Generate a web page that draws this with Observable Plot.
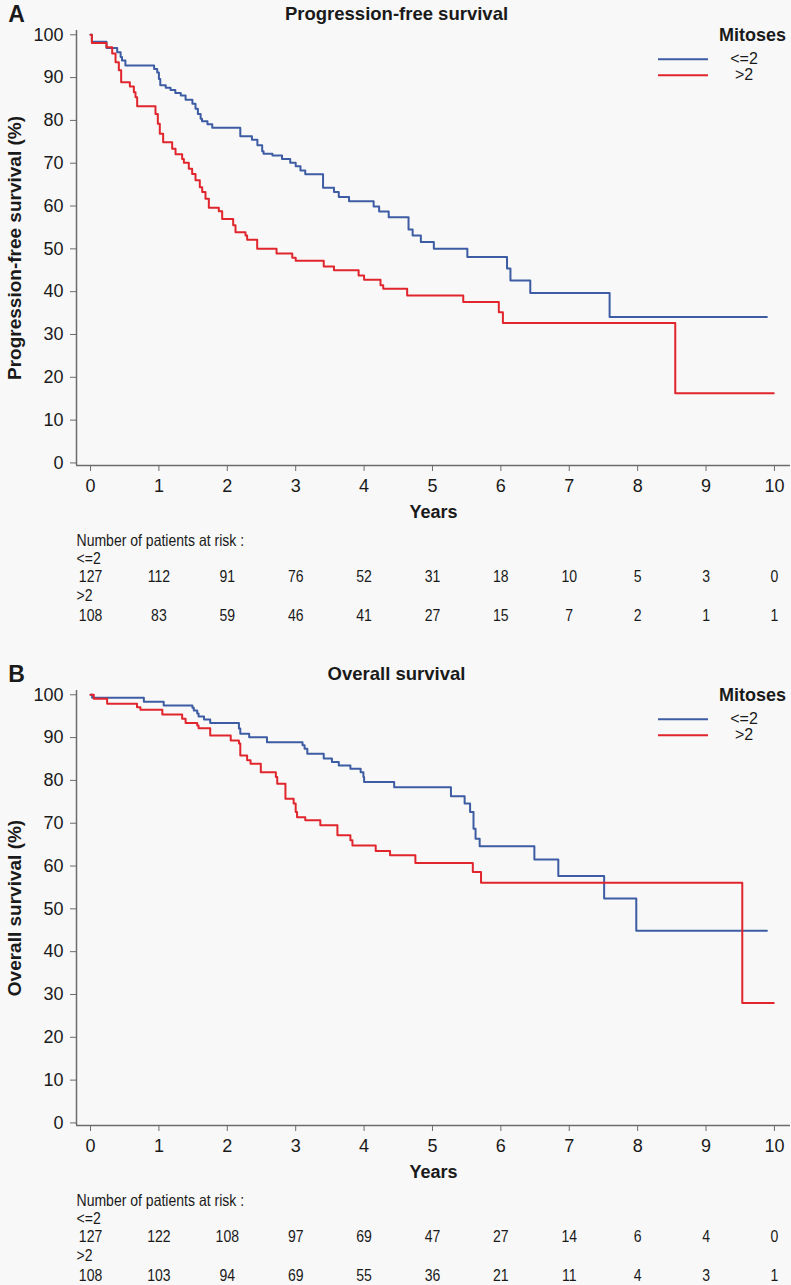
<!DOCTYPE html>
<html><head><meta charset="utf-8">
<script src="https://cdn.jsdelivr.net/npm/d3@7"></script>
<script src="https://cdn.jsdelivr.net/npm/@observablehq/plot@0.6"></script>
<style>
html,body{margin:0;padding:0;background:#f8f8f8;}
#root{width:791px;}
svg{display:block;}
</style></head><body><div id="root"></div>
<script>
const yearTicks = [0,1,2,3,4,5,6,7,8,9,10];
const survTicks = [0,10,20,30,40,50,60,70,80,90,100];
const groups = ["<=2", ">2"];
const groupColors = ["#3d5ca3", "#e0262c"];
const legendTitle = "Mitoses";

// Progression-free survival, [years, %]
const pfsLow = [[0,100],[0.02,98.4],[0.234,96.9],[0.39,95.9],[0.44,94.8],[0.46,94.0],[0.51,92.8],[0.93,92.0],[0.975,91.2],[1.0,89.7],[1.02,88.2],[1.10,87.6],[1.17,87.1],[1.24,86.4],[1.32,85.8],[1.39,84.8],[1.49,83.9],[1.535,82.7],[1.57,81.5],[1.61,80.4],[1.63,79.8],[1.71,79.1],[1.78,78.3],[2.19,76.3],[2.36,75.5],[2.44,74.2],[2.51,72.8],[2.53,72.2],[2.66,71.8],[2.80,71.0],[2.92,70.1],[3.0,69.3],[3.07,68.3],[3.14,67.4],[3.40,64.3],[3.56,63.3],[3.63,62.1],[3.78,61.1],[4.14,59.9],[4.22,58.7],[4.36,57.4],[4.65,54.5],[4.71,53.1],[4.83,51.6],[5.02,50.0],[5.51,48.1],[6.09,45.4],[6.14,42.6],[6.43,39.7],[7.59,34.1],[9.89,34.1]];
const pfsHigh = [[0,100],[0.02,98.1],[0.234,97.1],[0.317,95.6],[0.366,93.6],[0.414,91.7],[0.448,88.9],[0.575,87.9],[0.634,86.6],[0.658,85.4],[0.682,83.3],[0.95,81.5],[0.984,79.2],[1.013,76.9],[1.062,74.9],[1.194,73.4],[1.243,72.1],[1.34,71.0],[1.365,70.1],[1.437,68.7],[1.486,67.5],[1.535,66.0],[1.598,64.4],[1.633,63.3],[1.681,61.7],[1.73,59.6],[1.876,58.8],[1.925,57.0],[2.086,55.5],[2.12,53.9],[2.266,53.1],[2.29,52.1],[2.437,50.0],[2.72,48.9],[2.95,47.9],[3.0,47.2],[3.41,45.9],[3.56,45.0],[3.92,43.8],[4.0,42.8],[4.24,41.5],[4.28,40.7],[4.63,39.1],[5.45,37.6],[5.97,35.2],[6.03,32.7],[8.55,16.3],[9.99,16.3]];
// Overall survival, [years, %]
const osLow = [[0,100],[0.024,99.3],[0.78,98.4],[1.07,97.5],[1.49,97.0],[1.51,96.3],[1.56,95.6],[1.58,94.9],[1.66,94.2],[1.75,93.4],[2.17,92.1],[2.19,90.9],[2.32,90.1],[2.58,88.9],[3.10,88.2],[3.13,87.4],[3.17,86.2],[3.41,85.1],[3.53,84.3],[3.63,83.5],[3.80,82.7],[3.95,81.9],[3.99,80.8],[4.0,79.6],[4.44,78.4],[5.27,76.3],[5.47,74.6],[5.55,72.6],[5.60,68.7],[5.63,66.4],[5.69,64.6],[6.49,61.5],[6.84,57.7],[7.51,52.4],[7.98,44.9],[9.89,44.9]];
const osHigh = [[0,100],[0.048,99.1],[0.243,97.9],[0.68,97.1],[0.73,96.5],[1.05,95.4],[1.34,94.4],[1.39,93.4],[1.56,92.8],[1.58,92.2],[1.75,90.5],[2.05,89.3],[2.17,88.6],[2.19,85.8],[2.29,84.7],[2.34,83.9],[2.49,81.9],[2.71,80.8],[2.73,79.2],[2.85,75.7],[2.97,74.6],[3.0,72.6],[3.02,71.4],[3.14,70.7],[3.36,69.5],[3.61,67.2],[3.80,66.0],[3.83,64.8],[4.17,63.5],[4.38,62.5],[4.75,60.7],[5.59,58.6],[5.71,56.1],[9.53,28.0],[9.99,28.0]];

const pfsRiskLow = [127,112,91,76,52,31,18,10,5,3,0];
const pfsRiskHigh = [108,83,59,46,41,27,15,7,2,1,1];
const osRiskLow = [127,122,108,97,69,47,27,14,6,4,0];
const osRiskHigh = [108,103,94,69,55,36,21,11,4,3,1];

const FONT = "'Liberation Sans', Arial, Helvetica, sans-serif";
const NARROW = "'Liberation Sans Narrow', 'Arial Narrow', 'Liberation Sans', Arial, sans-serif";
const INK = "#1a1a1a";
const AXIS = "#6b6b6b";

function panel({letter, title, yLabel, low, high, riskLow, riskHigh, height, marginBottom}) {
  const data = [
    ...low.map(([t, s]) => ({t, s, g: groups[0]})),
    ...high.map(([t, s]) => ({t, s, g: groups[1]}))
  ];
  const M = "middle";
  const svg = Plot.plot({
    width: 791, height, marginTop: 30, marginLeft: 76, marginRight: 1, marginBottom,
    style: {background: "#f8f8f8", fontFamily: FONT, fontSize: "18px", color: INK, overflow: "visible"},
    x: {domain: [-0.205, 10.235], axis: null},
    y: {domain: [-0.6, 101], axis: null},
    color: {domain: groups, range: groupColors},
    marks: [
      Plot.ruleX([-0.205], {stroke: AXIS, strokeWidth: 1.5}),
      Plot.ruleY([-0.6], {stroke: AXIS, strokeWidth: 1.5}),
      Plot.axisY(survTicks, {tickSize: 6, tickPadding: 7, stroke: AXIS, fill: INK, label: null, fontSize: 18}),
      Plot.axisX(yearTicks, {tickSize: 6, tickPadding: 8, stroke: AXIS, fill: INK, label: null, fontSize: 18}),
      Plot.line(data, {x: "t", y: "s", z: "g", stroke: "g", curve: "step-after", strokeWidth: 2}),
      Plot.text([letter], {frameAnchor: "top-left", dx: -60, dy: -16, textAnchor: M, lineAnchor: M, fontSize: 23, fontWeight: "bold", fill: INK}),
      Plot.text([title], {frameAnchor: "top", dx: -37, dy: -16, lineAnchor: M, fontSize: 18.5, fontWeight: "bold", fill: INK}),
      Plot.text([yLabel], {frameAnchor: "left", dx: -62, rotate: -90, textAnchor: M, lineAnchor: M, fontSize: 19, fontWeight: "bold", fill: INK}),
      Plot.text(["Years"], {frameAnchor: "bottom", dy: 47, lineAnchor: M, fontSize: 18, fontWeight: "bold", fill: INK}),
      Plot.text(["Number of patients at risk :"], {frameAnchor: "bottom-left", dy: 75.5, textAnchor: "start", lineAnchor: M, fontFamily: NARROW, fontSize: 16.5, fill: INK}),
      Plot.text([groups[0]], {frameAnchor: "bottom-left", dy: 93.5, textAnchor: "start", lineAnchor: M, fontFamily: NARROW, fontSize: 16.5, fill: INK}),
      Plot.text(yearTicks, {x: d => d, text: (d, i) => String(riskLow[i]), frameAnchor: "bottom", dy: 111.5, lineAnchor: M, fontFamily: NARROW, fontSize: 16.5, fill: INK}),
      Plot.text([groups[1]], {frameAnchor: "bottom-left", dy: 130, textAnchor: "start", lineAnchor: M, fontFamily: NARROW, fontSize: 16.5, fill: INK}),
      Plot.text(yearTicks, {x: d => d, text: (d, i) => String(riskHigh[i]), frameAnchor: "bottom", dy: 150, lineAnchor: M, fontFamily: NARROW, fontSize: 16.5, fill: INK})
    ]
  });
  // legend (top-right)
  const s = d3.select(svg);
  const lg = s.append("g").attr("font-family", FONT).attr("fill", INK);
  lg.append("text").attr("x", 786).attr("y", 35).attr("text-anchor", "end").attr("dominant-baseline", "central")
    .attr("font-size", 18).attr("font-weight", "bold").text(legendTitle);
  groups.forEach((g, i) => {
    const y = 59.3 + i * 16;
    lg.append("line").attr("x1", 658).attr("x2", 708).attr("y1", y).attr("y2", y)
      .attr("stroke", groupColors[i]).attr("stroke-width", 2);
    lg.append("text").attr("x", 744).attr("y", y - 0.5).attr("text-anchor", "middle").attr("dominant-baseline", "central")
      .attr("font-size", 16).text(g);
  });
  return svg;
}

const root = document.getElementById("root");
root.appendChild(panel({letter: "A", title: "Progression-free survival", yLabel: "Progression-free survival (%)",
  low: pfsLow, high: pfsHigh, riskLow: pfsRiskLow, riskHigh: pfsRiskHigh, height: 660, marginBottom: 195}));
root.appendChild(panel({letter: "B", title: "Overall survival", yLabel: "Overall survival (%)",
  low: osLow, high: osHigh, riskLow: osRiskLow, riskHigh: osRiskHigh, height: 625, marginBottom: 160}));

// condense the at-risk table text (narrow face as in the reference)
d3.selectAll('g[font-family*="Narrow"] text').each(function () {
  const w = this.getComputedTextLength();
  if (w > 0) {
    this.setAttribute("textLength", (w * 0.85).toFixed(2));
    this.setAttribute("lengthAdjust", "spacingAndGlyphs");
  }
});
</script>
</body></html>
